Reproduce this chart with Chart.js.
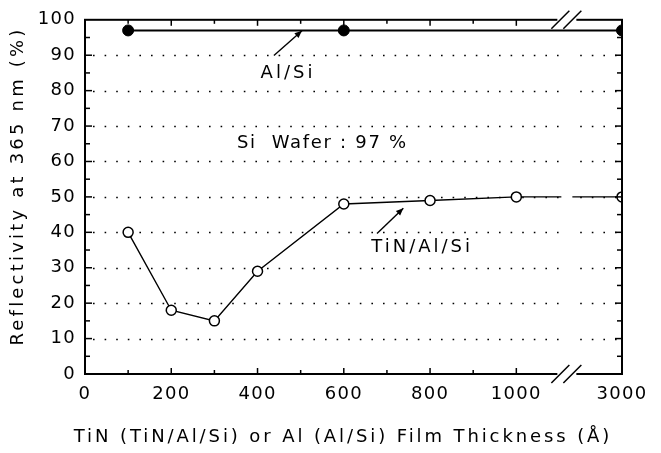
<!DOCTYPE html>
<html>
<head>
<meta charset="utf-8">
<script src="https://cdn.jsdelivr.net/npm/chart.js@4.4.0/dist/chart.umd.min.js"></script>
<style>
html,body{margin:0;padding:0;background:#fff;}
#wrap{width:661px;height:453px;position:relative;}
</style>
</head>
<body>
<div id="wrap"><canvas id="c" width="661" height="453"></canvas></div>
<script>
// ---- data ----
const xPlotPositions = [100, 200, 300, 400, 600, 800, 1000, 1245]; // 1245 = position of 3000 after axis break
const thicknessLabels = [100, 200, 300, 400, 600, 800, 1000, 3000];
const tinAlSi = [40, 18, 15, 29, 48, 49, 50, 50];
const alSiX = [100, 600, 1245];
const alSi = [97, 97, 97];
const xTickValues = [0, 200, 400, 600, 800, 1000, 1245];
const xTickLabels = ['0', '200', '400', '600', '800', '1000', '3000'];
const yTicks = [0, 10, 20, 30, 40, 50, 60, 70, 80, 90, 100];
const breakValue = 1116;
const xTitle = 'TiN (TiN/Al/Si) or Al (Al/Si) Film Thickness (Å)';
const yTitle = 'Reflectivity at 365 nm (%)';

const FONT = 'DejaVu Sans';

const decor = {
  id: 'decor',
  beforeDraw(chart) {
    chart.ctx.letterSpacing = '1.3px';
  },
  beforeDatasetsDraw(chart) {
    const {ctx, chartArea: a, scales: {x, y}} = chart;
    ctx.save();
    ctx.strokeStyle = '#000';
    ctx.lineWidth = 1.6;
    ctx.setLineDash([1.6, 10]);
    for (const v of yTicks) {
      if (v === 0 || v === 100) continue;
      const py = Math.round(y.getPixelForValue(v)) + 0.5;
      ctx.beginPath(); ctx.moveTo(a.left + 8, py); ctx.lineTo(a.right, py); ctx.stroke();
    }
    ctx.setLineDash([]);
    ctx.restore();
  },
  afterDatasetsDraw(chart) {
    const {ctx, chartArea: a, scales: {x, y}} = chart;
    const bx = x.getPixelForValue(breakValue);
    ctx.save();
    ctx.fillStyle = '#fff';
    ctx.fillRect(bx - 5, y.getPixelForValue(94), 11, a.bottom - y.getPixelForValue(94) - 2);
    ctx.strokeStyle = '#000';
    ctx.lineWidth = 2;
    ctx.strokeRect(a.left, a.top, a.right - a.left, a.bottom - a.top);
    ctx.lineWidth = 1.5;
    for (let v = 5; v < 100; v += 5) {
      const py = y.getPixelForValue(v);
      const len = v % 10 === 0 ? 7 : 5;
      ctx.beginPath(); ctx.moveTo(a.left, py); ctx.lineTo(a.left + len, py); ctx.stroke();
      ctx.beginPath(); ctx.moveTo(a.right, py); ctx.lineTo(a.right - len, py); ctx.stroke();
    }
    for (let v = 100; v <= 1000; v += 100) {
      const px = x.getPixelForValue(v);
      const len = v % 200 === 0 ? 6 : 4;
      ctx.beginPath(); ctx.moveTo(px, a.bottom); ctx.lineTo(px, a.bottom - len); ctx.stroke();
      ctx.beginPath(); ctx.moveTo(px, a.top); ctx.lineTo(px, a.top + len); ctx.stroke();
    }
    for (const py of [a.top, a.bottom]) {
      ctx.fillStyle = '#fff';
      ctx.fillRect(bx - 9, py - 2, 19, 4);
      ctx.strokeStyle = '#000';
      ctx.lineWidth = 1.5;
      for (const off of [-6, 6]) {
        ctx.beginPath();
        ctx.moveTo(bx + off - 9, py + 9);
        ctx.lineTo(bx + off + 9, py - 9);
        ctx.stroke();
      }
    }
    // annotations
    ctx.fillStyle = '#000';
    ctx.font = '18px "' + FONT + '"';
    ctx.textAlign = 'center';
    ctx.textBaseline = 'middle';
    ctx.letterSpacing = '3px';
    ctx.fillText('Al/Si', x.getPixelForValue(466) + 2, y.getPixelForValue(84.8));
    ctx.fillText('TiN/Al/Si', x.getPixelForValue(777) + 2, y.getPixelForValue(35.8));
    ctx.letterSpacing = '1.7px';
    ctx.fillText('Si  Wafer : 97 %', x.getPixelForValue(548) + 1, y.getPixelForValue(65));
    const arrow = (x1, y1, x2, y2) => {
      const p1 = [x.getPixelForValue(x1), y.getPixelForValue(y1)];
      const p2 = [x.getPixelForValue(x2), y.getPixelForValue(y2)];
      ctx.lineWidth = 1.4;
      ctx.beginPath(); ctx.moveTo(p1[0], p1[1]); ctx.lineTo(p2[0], p2[1]); ctx.stroke();
      const ang = Math.atan2(p2[1] - p1[1], p2[0] - p1[0]);
      const L = 8, W = 0.4;
      ctx.beginPath();
      ctx.moveTo(p2[0], p2[1]);
      ctx.lineTo(p2[0] - L * Math.cos(ang - W), p2[1] - L * Math.sin(ang - W));
      ctx.lineTo(p2[0] - L * Math.cos(ang + W), p2[1] - L * Math.sin(ang + W));
      ctx.closePath(); ctx.fill();
    };
    arrow(438, 89.9, 503, 96.9);
    arrow(677, 39.7, 738, 46.8);
    // axis titles
    ctx.letterSpacing = '2.9px';
    ctx.fillText(xTitle, 343, 437);
    ctx.save();
    ctx.translate(18, 188);
    ctx.rotate(-Math.PI / 2);
    ctx.letterSpacing = '3.2px';
    ctx.fillText(yTitle, 2, 0);
    ctx.restore();
    ctx.restore();
    ctx.letterSpacing = '1.3px';
  }
};

new Chart(document.getElementById('c'), {
  type: 'line',
  data: {
    datasets: [
      {
        label: 'TiN/Al/Si',
        data: xPlotPositions.map((v, i) => ({x: v, y: tinAlSi[i]})),
        borderColor: '#000', borderWidth: 1.4,
        pointRadius: 5, pointBorderWidth: 1.5,
        pointBackgroundColor: '#fff', pointBorderColor: '#000',
        tension: 0
      },
      {
        label: 'Al/Si',
        data: alSiX.map((v, i) => ({x: v, y: alSi[i]})),
        borderColor: '#000', borderWidth: 2,
        pointRadius: 5.5, pointBorderWidth: 1,
        pointBackgroundColor: '#000', pointBorderColor: '#000',
        tension: 0
      }
    ]
  },
  options: {
    responsive: false, animation: false,
    layout: {padding: {left: 0, right: 39, top: 19, bottom: 0}},
    plugins: {legend: {display: false}, tooltip: {enabled: false}},
    scales: {
      x: {
        type: 'linear', min: 0, max: 1245,
        afterBuildTicks(s) { s.ticks = xTickValues.map(v => ({value: v})); },
        afterFit(s) { s.height = 79; },
        grid: {display: false, drawTicks: false},
        border: {display: false},
        ticks: {
          autoSkip: false, maxRotation: 0, padding: 10,
          color: '#000', font: {family: FONT, size: 18},
          callback(v) { const i = xTickValues.indexOf(v); return i >= 0 ? xTickLabels[i] : ''; }
        },
        title: {display: false}
      },
      y: {
        type: 'linear', min: 0, max: 100,
        afterBuildTicks(s) { s.ticks = yTicks.map(v => ({value: v})); },
        afterFit(s) { s.width = 85; },
        grid: {display: false, drawTicks: false},
        border: {display: false},
        ticks: {
          autoSkip: false, padding: 9,
          color: '#000', font: {family: FONT, size: 18}
        },
        title: {display: false}
      }
    }
  },
  plugins: [decor]
});
</script>
</body>
</html>
